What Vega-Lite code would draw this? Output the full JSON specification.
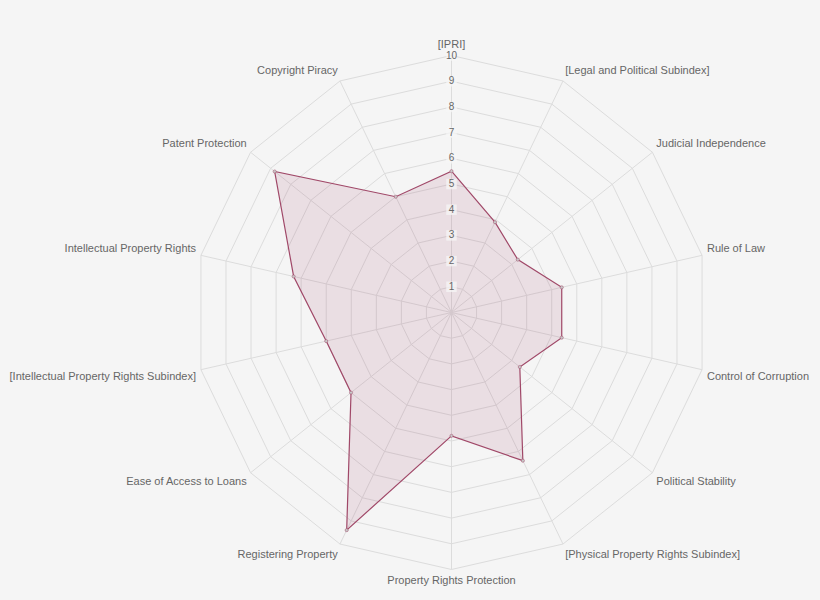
{
  "$schema": "https://vega.github.io/schema/vega-lite/v6.json",
  "width": 820,
  "height": 600,
  "autosize": "none",
  "padding": 0,
  "background": "#f5f5f5",
  "config": {"view": {"stroke": null}},
  "datasets": {
    "axes": [
      {"axis": "[IPRI]", "i": 0, "value": 5.5},
      {"axis": "[Legal and Political Subindex]", "i": 1, "value": 3.9},
      {"axis": "Judicial Independence", "i": 2, "value": 3.3},
      {"axis": "Rule of Law", "i": 3, "value": 4.4},
      {"axis": "Control of Corruption", "i": 4, "value": 4.4},
      {"axis": "Political Stability", "i": 5, "value": 3.4},
      {"axis": "[Physical Property Rights Subindex]", "i": 6, "value": 6.4},
      {"axis": "Property Rights Protection", "i": 7, "value": 4.8},
      {"axis": "Registering Property", "i": 8, "value": 9.4},
      {"axis": "Ease of Access to Loans", "i": 9, "value": 5.0},
      {"axis": "[Intellectual Property Rights Subindex]", "i": 10, "value": 5.0},
      {"axis": "Intellectual Property Rights", "i": 11, "value": 6.3},
      {"axis": "Patent Protection", "i": 12, "value": 8.8},
      {"axis": "Copyright Piracy", "i": 13, "value": 5.0}
    ],
    "levels": [
      {"level": 1, "i": [0, 1, 2, 3, 4, 5, 6, 7, 8, 9, 10, 11, 12, 13]},
      {"level": 2, "i": [0, 1, 2, 3, 4, 5, 6, 7, 8, 9, 10, 11, 12, 13]},
      {"level": 3, "i": [0, 1, 2, 3, 4, 5, 6, 7, 8, 9, 10, 11, 12, 13]},
      {"level": 4, "i": [0, 1, 2, 3, 4, 5, 6, 7, 8, 9, 10, 11, 12, 13]},
      {"level": 5, "i": [0, 1, 2, 3, 4, 5, 6, 7, 8, 9, 10, 11, 12, 13]},
      {"level": 6, "i": [0, 1, 2, 3, 4, 5, 6, 7, 8, 9, 10, 11, 12, 13]},
      {"level": 7, "i": [0, 1, 2, 3, 4, 5, 6, 7, 8, 9, 10, 11, 12, 13]},
      {"level": 8, "i": [0, 1, 2, 3, 4, 5, 6, 7, 8, 9, 10, 11, 12, 13]},
      {"level": 9, "i": [0, 1, 2, 3, 4, 5, 6, 7, 8, 9, 10, 11, 12, 13]},
      {"level": 10, "i": [0, 1, 2, 3, 4, 5, 6, 7, 8, 9, 10, 11, 12, 13]}
    ]
  },
  "encoding": {
    "x": {"field": "x", "type": "quantitative", "axis": null,
          "scale": {"domain": [-17.568, 14.339], "nice": false, "zero": false}},
    "y": {"field": "y", "type": "quantitative", "axis": null,
          "scale": {"domain": [-11.187, 12.160], "nice": false, "zero": false}}
  },
  "layer": [
    {
      "data": {"name": "levels"},
      "transform": [
        {"flatten": ["i"]},
        {"calculate": "datum.level * sin(datum.i * 2 * PI / 14)", "as": "x"},
        {"calculate": "datum.level * cos(datum.i * 2 * PI / 14)", "as": "y"}
      ],
      "mark": {"type": "line", "interpolate": "linear-closed", "stroke": "#dcdcdc", "strokeWidth": 1},
      "encoding": {
        "detail": {"field": "level", "type": "nominal"},
        "order": {"field": "i", "type": "quantitative"}
      }
    },
    {
      "data": {"name": "axes"},
      "transform": [
        {"calculate": "10 * sin(datum.i * 2 * PI / 14)", "as": "x"},
        {"calculate": "10 * cos(datum.i * 2 * PI / 14)", "as": "y"}
      ],
      "mark": {"type": "rule", "stroke": "#dcdcdc", "strokeWidth": 1},
      "encoding": {
        "x2": {"datum": 0},
        "y2": {"datum": 0}
      }
    },
    {
      "data": {"name": "axes"},
      "transform": [
        {"calculate": "datum.value * sin(datum.i * 2 * PI / 14)", "as": "x"},
        {"calculate": "datum.value * cos(datum.i * 2 * PI / 14)", "as": "y"}
      ],
      "mark": {"type": "line", "interpolate": "linear-closed", "stroke": "#a04868", "strokeWidth": 1.2,
               "fill": "#a03c64", "fillOpacity": 0.12},
      "encoding": {
        "order": {"field": "i", "type": "quantitative"}
      }
    },
    {
      "data": {"name": "axes"},
      "transform": [
        {"calculate": "datum.value * sin(datum.i * 2 * PI / 14)", "as": "x"},
        {"calculate": "datum.value * cos(datum.i * 2 * PI / 14)", "as": "y"}
      ],
      "mark": {"type": "point", "filled": true, "size": 10, "fill": "#c8c8c8", "stroke": "#a04868", "strokeWidth": 0.5, "opacity": 1}
    },
    {
      "data": {"name": "levels"},
      "transform": [
        {"calculate": "0", "as": "x"},
        {"calculate": "datum.level", "as": "y"}
      ],
      "mark": {"type": "square", "size": 110, "filled": true, "fill": "#f5f5f5", "opacity": 0.75}
    },
    {
      "data": {"name": "levels"},
      "transform": [
        {"calculate": "0", "as": "x"},
        {"calculate": "datum.level", "as": "y"}
      ],
      "mark": {"type": "text", "font": "Liberation Sans", "fontSize": 10, "color": "#666666",
               "align": "center", "baseline": "middle"},
      "encoding": {"text": {"field": "level", "type": "quantitative"}}
    },
    {
      "data": {"name": "axes"},
      "transform": [
        {"calculate": "10.195 * sin(datum.i * 2 * PI / 14)", "as": "x"},
        {"calculate": "10.195 * cos(datum.i * 2 * PI / 14)", "as": "y"}
      ],
      "layer": [
        {
          "transform": [{"filter": "datum.i == 0"}],
          "mark": {"type": "text", "font": "Liberation Sans", "fontSize": 11, "color": "#666666", "align": "center", "baseline": "bottom"},
          "encoding": {"text": {"field": "axis"}}
        },
        {
          "transform": [{"filter": "datum.i == 7"}],
          "mark": {"type": "text", "font": "Liberation Sans", "fontSize": 11, "color": "#666666", "align": "center", "baseline": "top"},
          "encoding": {"text": {"field": "axis"}}
        },
        {
          "transform": [{"filter": "datum.i >= 1 && datum.i <= 3"}],
          "mark": {"type": "text", "font": "Liberation Sans", "fontSize": 11, "color": "#666666", "align": "left", "baseline": "bottom"},
          "encoding": {"text": {"field": "axis"}}
        },
        {
          "transform": [{"filter": "datum.i >= 4 && datum.i <= 6"}],
          "mark": {"type": "text", "font": "Liberation Sans", "fontSize": 11, "color": "#666666", "align": "left", "baseline": "top"},
          "encoding": {"text": {"field": "axis"}}
        },
        {
          "transform": [{"filter": "datum.i >= 8 && datum.i <= 10"}],
          "mark": {"type": "text", "font": "Liberation Sans", "fontSize": 11, "color": "#666666", "align": "right", "baseline": "top"},
          "encoding": {"text": {"field": "axis"}}
        },
        {
          "transform": [{"filter": "datum.i >= 11"}],
          "mark": {"type": "text", "font": "Liberation Sans", "fontSize": 11, "color": "#666666", "align": "right", "baseline": "bottom"},
          "encoding": {"text": {"field": "axis"}}
        }
      ]
    }
  ]
}
